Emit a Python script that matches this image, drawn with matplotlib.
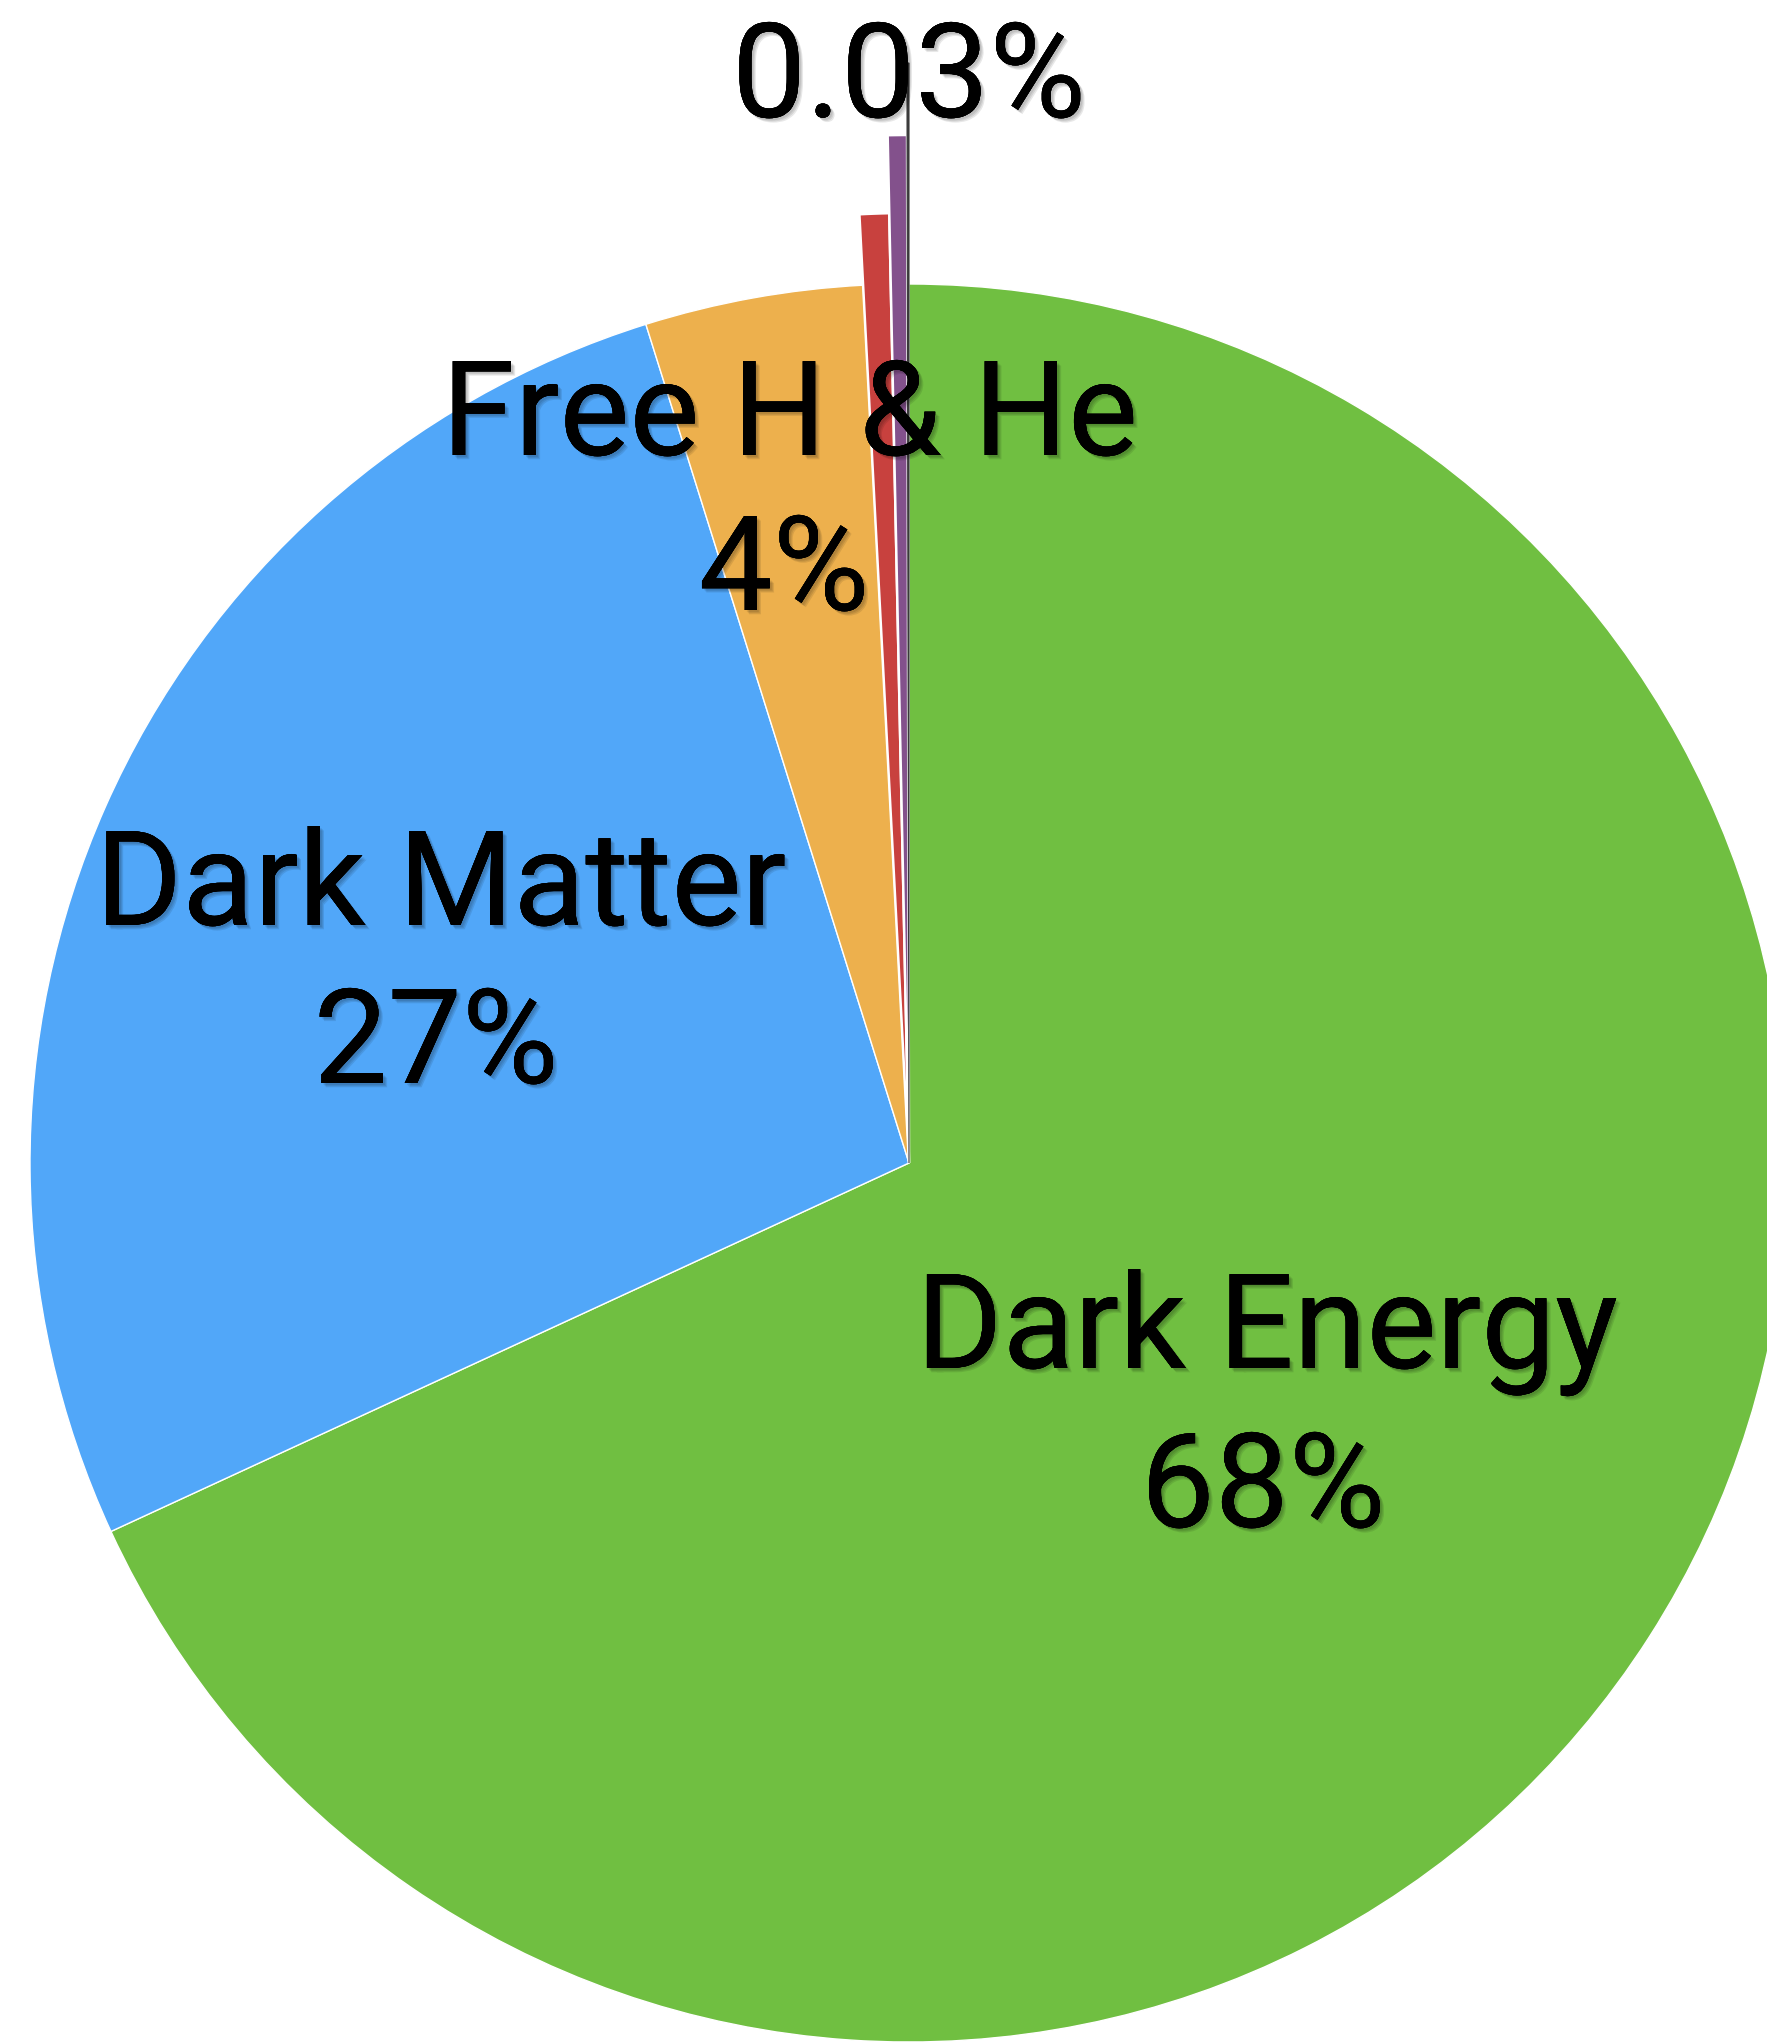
import matplotlib
matplotlib.use("Agg")
import matplotlib.pyplot as plt
import matplotlib.patheffects as pe

# ---- data ----
components = ["Dark Energy", "Dark Matter", "Free H & He", "Stars", "Neutrinos", "Heavy Elements"]
percent = [68, 27, 4, 0.5, 0.3, 0.03]
pct_labels = ["68%", "27%", "4%", None, None, "0.03%"]
show_name = [True, True, True, False, False, False]

# ---- style ----
colors = ["#70BF41", "#51A7F9", "#EDB04D", "#C8413E", "#83518C", "#3A3A3A"]
W, H = 1767, 2043
cx, cy = 909, H - 1163
R = 879
radius_scale = [1.0, 1.0, 1.0, 950 / 879, 1028 / 879, 1100 / 879]
edge_w = [1.0, 1.0, 1.0, 1.8, 1.8, 0.0]

plt.rcParams['font.family'] = ['Roboto', 'DejaVu Sans']
fig = plt.figure(figsize=(W / 100, H / 100), dpi=100)
ax = fig.add_axes([0, 0, 1, 1])

wedges, _ = ax.pie(percent, colors=colors, startangle=90, counterclock=False,
                   center=(cx, cy), radius=R,
                   wedgeprops=dict(edgecolor="white", linewidth=1.0))
for w, s, lw, c in zip(wedges, radius_scale, edge_w, colors):
    w.set_radius(R * s)
    if lw == 0:
        w.set_edgecolor(c)
        w.set_linewidth(0.8)
    else:
        w.set_linewidth(lw)

ax.set_xlim(0, W)
ax.set_ylim(0, H)
ax.set_aspect('equal', adjustable='box')
ax.axis('off')

# soft drop shadow
shadow = [pe.withSimplePatchShadow(offset=(o, -o), shadow_rgbFace='black', alpha=0.09)
          for o in (1.5, 2.3, 3.1)] + [pe.Normal()]
fs = 95

# label positions (pixel coords, y from top): name baseline / pct baseline
name_pos = {"Dark Energy": (1267, 1368), "Dark Matter": (441, 925), "Free H & He": (790, 455)}
pct_pos = {"68%": (1263, 1527), "27%": (436, 1083), "4%": (784, 610), "0.03%": (909, 117)}

for name, pl, sn in zip(components, pct_labels, show_name):
    if sn:
        x, yb = name_pos[name]
        ax.text(x, H - yb, name, ha='center', va='baseline', fontsize=fs,
                color='black', path_effects=shadow, zorder=5)
    if pl is not None:
        x, yb = pct_pos[pl]
        ax.text(x, H - yb, pl, ha='center', va='baseline', fontsize=fs,
                color='black', path_effects=shadow, zorder=5)

fig.savefig("out.png", dpi=100)
